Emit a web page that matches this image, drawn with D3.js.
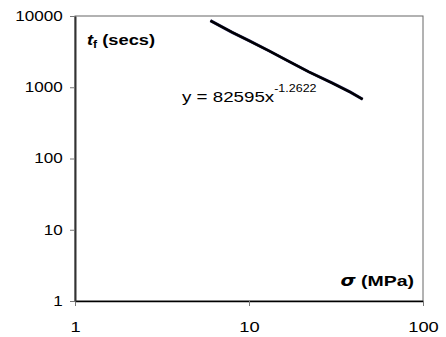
<!DOCTYPE html>
<html>
<head>
<meta charset="utf-8">
<script src="https://cdn.jsdelivr.net/npm/d3@7"></script>
<style>
  body { margin: 0; background: #fff; }
  svg text { font-family: "Liberation Sans", Arial, sans-serif; }
</style>
</head>
<body>
<div class="canvas"></div>
<script>
// stress (MPa) vs time to failure (secs)
const sigma = [6, 8, 10, 13, 17, 22, 30, 38, 45];
const tf = [8600, 5900, 4500, 3250, 2300, 1650, 1150, 860, 680];
const xTicks = [1, 10, 100];
const yTicks = [1, 10, 100, 1000, 10000];

const margin = { t: 16, r: 23, b: 36, l: 75 };
const svgWidth = 446;
const svgHeight = 337;
const gWidth = svgWidth - margin.l - margin.r;
const gHeight = svgHeight - margin.b - margin.t;

// the original text is drawn a bit wide
const stretch = 1.22;

const svg = d3
  .select(".canvas")
  .append("svg")
  .attr("width", svgWidth)
  .attr("height", svgHeight);

const g = svg
  .append("g")
  .attr("transform", `translate(${margin.l}, ${margin.t})`);

const x = d3.scaleLog().domain([1, 100]).range([0, gWidth]);
const y = d3.scaleLog().domain([1, 10000]).range([gHeight, 0]);

// frame (top + right)
g.append("rect")
  .attr("width", gWidth)
  .attr("height", gHeight)
  .attr("fill", "none")
  .attr("stroke", "#666")
  .attr("stroke-width", 1);

const xAxis = d3
  .axisBottom(x)
  .tickValues(xTicks)
  .tickFormat(d3.format("d"))
  .tickSizeInner(5)
  .tickSizeOuter(0)
  .tickPadding(15);
const yAxis = d3
  .axisLeft(y)
  .tickValues(yTicks)
  .tickFormat(d3.format("d"))
  .tickSizeInner(5)
  .tickSizeOuter(0)
  .tickPadding(5);

const xAxisGroup = g
  .append("g")
  .attr("class", "x-axis")
  .attr("transform", `translate(0, ${gHeight})`)
  .call(xAxis);
const yAxisGroup = g.append("g").attr("class", "y-axis").call(yAxis);

xAxisGroup.select(".domain").attr("stroke", "#000").attr("stroke-width", 1.5);
yAxisGroup.select(".domain").attr("stroke", "#333").attr("stroke-width", 2);
g.selectAll(".tick line").attr("stroke", "#777");
g.selectAll(".tick text")
  .attr("font-family", "Liberation Sans, Arial, sans-serif")
  .attr("fill", "#000")
  .attr("transform", `scale(${stretch}, 1)`);
xAxisGroup.selectAll("text").attr("font-size", 15);
yAxisGroup.selectAll("text").attr("font-size", 14);

const line = d3
  .line()
  .x(d => x(d))
  .y((d, i) => y(tf[i]));

g.append("path")
  .datum(sigma)
  .attr("fill", "none")
  .attr("stroke", "#1a1a50")
  .attr("stroke-width", 3)
  .attr("d", line);
g.append("path")
  .datum(sigma)
  .attr("fill", "none")
  .attr("stroke", "#000")
  .attr("stroke-width", 2.2)
  .attr("d", line);

// equation label
const eq = svg
  .append("text")
  .attr("transform", `translate(182, 102) scale(${stretch + 0.03}, 1)`)
  .attr("font-size", 15)
  .attr("fill", "#000");
eq.append("tspan").text("y = 82595x");
eq.append("tspan").attr("dy", -10).attr("font-size", 10).text("-1.2622");

// axis titles
const yTitle = svg
  .append("text")
  .attr("transform", `translate(87, 45) scale(${stretch}, 1)`)
  .attr("font-size", 15)
  .attr("font-weight", "bold");
yTitle.append("tspan").attr("font-style", "italic").text("t");
yTitle.append("tspan").attr("font-size", 10).attr("dy", 3).text("f");
yTitle.append("tspan").attr("dy", -3).text(" (secs)");

const xTitle = svg
  .append("text")
  .attr("transform", `translate(414, 286) scale(1.3, 1)`)
  .attr("text-anchor", "end")
  .attr("font-size", 15)
  .attr("font-weight", "bold");
xTitle.append("tspan").attr("font-style", "italic").attr("font-family", "DejaVu Sans, sans-serif").text("σ");
xTitle.append("tspan").text(" (MPa)");
</script>
</body>
</html>
